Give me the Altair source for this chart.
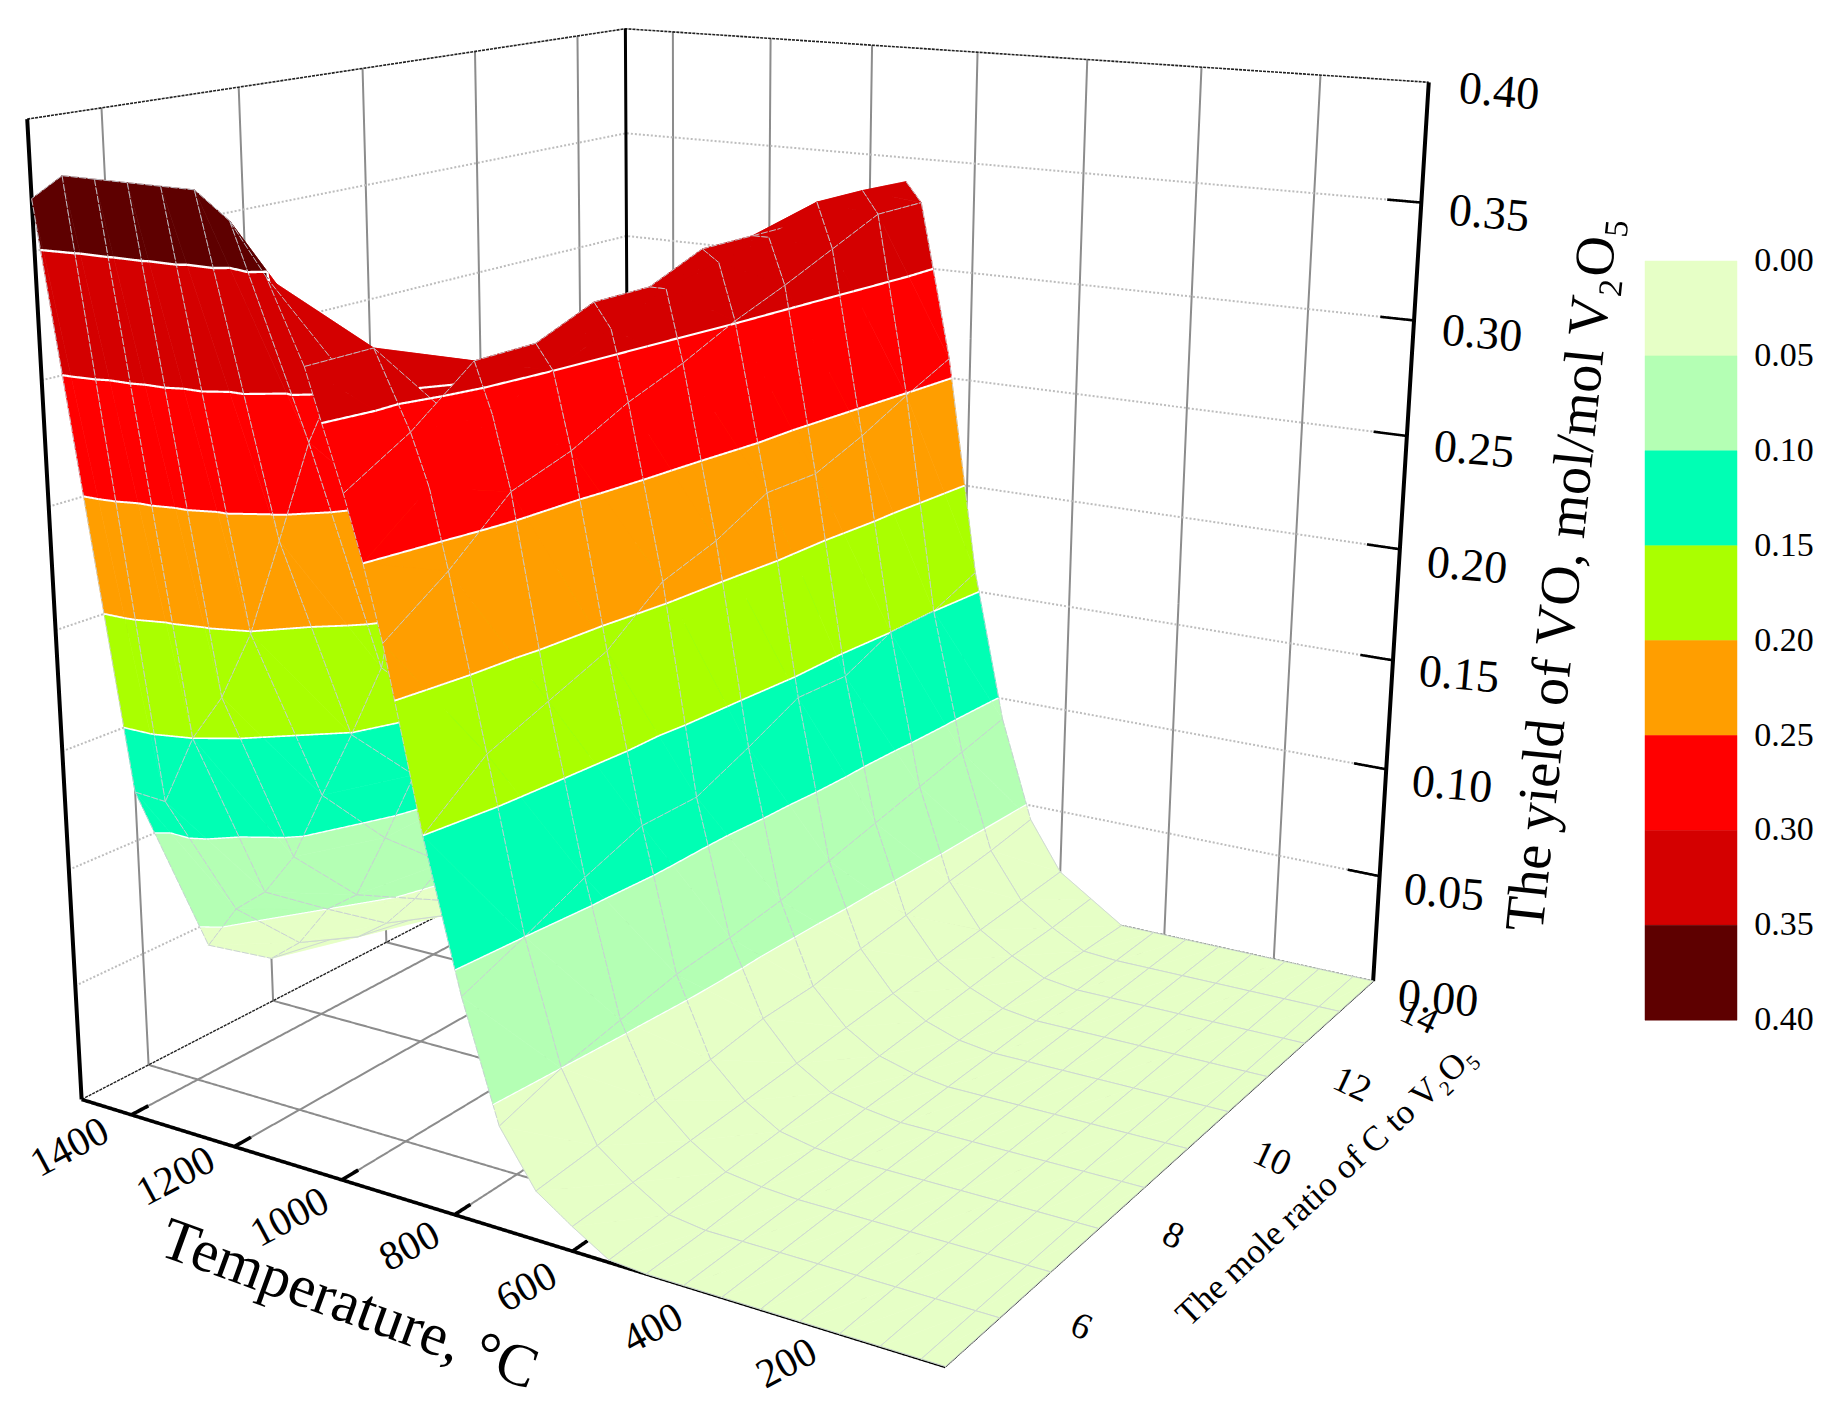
import numpy as np
import altair as alt

# ---------- data ----------
temperature = [1500,1440,1380,1320,1260,1200,1140,1080,1020,960,930,900,840,780,720,660,600,540,480,420,360,300,240,180,120,60,25]
ratio = [5,6,7,8,9,10,11,12,13,14,15]
y1500 = [.370,.121,.040,.020,.015,.010,.007,.006,.005,.004,.003]
y1440 = [.380,.120,.060,.031,.020,.015,.012,.010,.008,.006,.005]
y1380 = [.380,.150,.071,.050,.030,.020,.015,.012,.010,.008,.006]
y1320 = [.380,.170,.090,.060,.045,.030,.020,.015,.012,.010,.008]
y1260 = [.380,.199,.120,.089,.065,.050,.035,.025,.020,.015,.012]
y1200 = [.380,.239,.149,.120,.100,.080,.060,.050,.040,.030,.025]
y1140 = [.370,.280,.180,.150,.140,.120,.100,.090,.080,.070,.060]
y1080 = [.351,.310,.240,.200,.200,.190,.180,.170,.160,.150,.140]
y1020 = [.320,.320,.290,.270,.270,.260,.260,.260,.270,.270,.270]
y960  = [.275,.290,.310,.310,.320,.320,.330,.330,.330,.330,.330]
y930  = [.250,.270,.290,.300,.310,.320,.325,.330,.340,.340,.339]
y900  = [.221,.239,.261,.269,.281,.290,.301,.310,.320,.330,.330]
y840  = [.150,.170,.180,.190,.209,.217,.229,.229,.238,.249,.259]
y780  = [.090,.100,.111,.120,.120,.130,.141,.140,.150,.150,.159]
y720  = [.042,.050,.055,.060,.062,.065,.070,.075,.080,.085,.090]
y660  = [.020,.022,.025,.027,.030,.030,.033,.035,.038,.040,.043]
y600  = [.010,.011,.012,.013,.014,.015,.016,.017,.018,.019,.020]
y540  = [.001,.002,.003,.004,.005,.006,.007,.008,.009,.009,.010]
y480  = [.000,.000,.001,.001,.002,.002,.002,.002,.002,.001,.000]
y420  = [.000,.000,.000,.000,.000,.000,.000,.000,.000,.000,.000]
yields = np.array([y1500,y1440,y1380,y1320,y1260,y1200,y1140,y1080,y1020,y960,y930,y900,y840,y780,y720,y660,y600,y540,y480]
                  + [y420]*8)

band_edges = [0.00,0.05,0.10,0.15,0.20,0.25,0.30,0.35,0.40]
band_colors = ["#E6FFC6","#B4FFB4","#00FFB4","#AAFF00","#FF9E00","#FF0000","#D40000","#5E0000"]
temp_ticks = [1400,1200,1000,800,600,400,200]
ratio_ticks = [6,8,10,12,14]
yield_ticks = [0.05,0.10,0.15,0.20,0.25,0.30,0.35]

# ---------- the 3D view: box corners in the picture ----------
box3d = [(1500,5,0),(25,5,0),(25,15,0),(1500,15,0),(1500,5,.4),(25,15,.4),(1500,15,.4)]
box2d = [(84,1100),(944,1367),(1375,980),(627,817),(26,118),(1428,83),(627,29)]
def scaled(T,r,z): return (T/1000.0,r/10.0,z)
A=[];b=[]
for p,q in zip(box3d,box2d):
    X,Y,Z=scaled(*p);u,v=q
    A.append([X,Y,Z,1,0,0,0,0,-u*X,-u*Y,-u*Z]);b.append(u)
    A.append([0,0,0,0,X,Y,Z,1,-v*X,-v*Y,-v*Z]);b.append(v)
h=np.linalg.lstsq(np.array(A,float),np.array(b,float),rcond=None)[0]
P=np.array(list(h)+[1.0]).reshape(3,4)
def proj(T,r,z):
    w=P@np.array([*scaled(T,r,z),1.0])
    return [round(float(w[0]/w[2]),2),round(float(w[1]/w[2]),2)]
SOLID=[1,0]
def line(pts,dash=SOLID,**props):
    return {"type":"Feature","geometry":{"type":"LineString","coordinates":[proj(*p) for p in pts]},
            "properties":dict(props,dash=dash)}

TMAX,TMIN,RMIN,RMAX,ZMAX=1500,25,5,15,.4

# ---------- surface features, painted back to front ----------
def clip(poly,level,keep_above):
    out=[]
    n=len(poly)
    for i in range(n):
        a,b_=poly[i],poly[(i+1)%n]
        da,db=a[2]-level,b_[2]-level
        ina=da>=0 if keep_above else da<=0
        inb=db>=0 if keep_above else db<=0
        if ina: out.append(a)
        if ina!=inb:
            t=da/(da-db)
            out.append(tuple(a[k]+t*(b_[k]-a[k]) for k in range(3)))
    return out
def contour_seg(tri,level):
    pts=[]
    for i in range(3):
        a,b_=tri[i],tri[(i+1)%3]
        da,db=a[2]-level,b_[2]-level
        if da*db<0:
            t=da/(da-db)
            pts.append(tuple(a[k]+t*(b_[k]-a[k]) for k in range(3)))
    return pts if len(pts)==2 else None

features=[]
EPS=1e-6
HIDDEN_ROW=930
MESH="#C6CDD4"
for i in range(len(temperature)-1):
    for j in range(len(ratio)-2,-1,-1):
        v=[(temperature[i],ratio[j],yields[i,j]),(temperature[i],ratio[j+1],yields[i,j+1]),
           (temperature[i+1],ratio[j+1],yields[i+1,j+1]),(temperature[i+1],ratio[j],yields[i+1,j])]
        tris=[[v[0],v[1],v[2]],[v[0],v[2],v[3]]]
        for tri in tris:
            for k,c in enumerate(band_colors):
                lo,hi=band_edges[k]+EPS,band_edges[k+1]+EPS
                poly=tri
                if k>0: poly=clip(poly,lo,True)
                if len(poly)>=3: poly=clip(poly,hi,False)
                if len(poly)>=3:
                    ring=[proj(*p) for p in poly];ring.append(ring[0])
                    features.append({"type":"Feature","geometry":{"type":"Polygon","coordinates":[ring]},
                                     "properties":{"fill":c,"stroke":c,"sw":0.7,"dash":SOLID}})
        dash=[7,1.5] if max(p[2] for p in v)>.05 else SOLID
        edges=[[v[1],v[2]],[v[3],v[0]]]
        if temperature[i]!=HIDDEN_ROW: edges.append([v[0],v[1]])
        if temperature[i+1]!=HIDDEN_ROW: edges.append([v[2],v[3]])
        for e in edges:
            features.append(line(e,dash=dash,fill="transparent",stroke=MESH,sw=0.9))
        for tri in tris:
            for lev in band_edges[1:-1]:
                seg=contour_seg(tri,lev+EPS)
                if seg:
                    features.append(line(seg,fill="transparent",stroke="#FFFFFF",sw=round(1.1+lev*3.6,2)))

def shape_layer(feats,**mark):
    return alt.Chart(alt.Data(values=feats)).mark_geoshape(strokeJoin="round",**mark).encode(
        fill=alt.Fill("properties.fill:N",scale=None),
        stroke=alt.Stroke("properties.stroke:N",scale=None),
        strokeWidth=alt.StrokeWidth("properties.sw:Q",scale=None),
        strokeDash=alt.StrokeDash("properties.dash:N",scale=None),
    ).project(type="identity",scale=1,translate=[-8,-8])

# ---------- walls and floor ----------
grid=[]
for T in temp_ticks:
    grid.append(line([(T,RMIN,0),(T,RMAX,0),(T,RMAX,ZMAX)],fill="transparent",stroke="#8C8C8C",sw=2))
for r in ratio_ticks:
    grid.append(line([(TMIN,r,0),(TMAX,r,0),(TMAX,r,ZMAX)],fill="transparent",stroke="#8C8C8C",sw=2))
dotted=[]
for z in yield_ticks:
    dotted.append(line([(TMAX,RMIN,z),(TMAX,RMAX,z),(TMIN,RMAX,z)],dash=[2,2],fill="transparent",stroke="#BDBDBD",sw=2))
thin=[line([(TMAX,RMIN,ZMAX),(TMAX,RMAX,ZMAX),(TMIN,RMAX,ZMAX)],dash=[3,1],fill="transparent",stroke="#222222",sw=1.6),
      line([(TMAX,RMIN,0),(TMAX,RMAX,0),(TMIN,RMAX,0)],dash=[3,1],fill="transparent",stroke="#222222",sw=1.4)]
thick=[line([(TMAX,RMIN,0),(TMAX,RMIN,ZMAX)],fill="transparent",stroke="#000000",sw=4),
       line([(TMAX,RMAX,0),(TMAX,RMAX,ZMAX)],fill="transparent",stroke="#000000",sw=3),
       line([(TMIN,RMAX,0),(TMIN,RMAX,ZMAX)],fill="transparent",stroke="#000000",sw=4),
       line([(TMAX,RMIN,0),(TMIN,RMIN,0)],fill="transparent",stroke="#000000",sw=3.6),
       line([(TMIN,RMIN,0),(TMIN,RMAX,0)],fill="transparent",stroke="#000000",sw=1.6)]
for T in temp_ticks:
    thick.append(line([(T,RMIN,0),(T,RMIN+0.25,0)],fill="transparent",stroke="#000000",sw=3.6))
for z in yield_ticks:
    thick.append(line([(TMIN,RMAX,z),(TMIN+55,RMAX,z)],fill="transparent",stroke="#000000",sw=2.6))

# ---------- legend ----------
LEG_X0,LEG_X1,LEG_Y0,LEG_DY=1645,1737,261,94.9
legend=[]
for k,c in enumerate(band_colors):
    y0,y1=LEG_Y0+k*LEG_DY,LEG_Y0+(k+1)*LEG_DY
    legend.append({"type":"Feature","geometry":{"type":"Polygon","coordinates":[[[LEG_X0,y0],[LEG_X1,y0],[LEG_X1,y1],[LEG_X0,y1],[LEG_X0,y0]]]},
                   "properties":{"fill":c,"stroke":c,"sw":0.5,"dash":SOLID}})

# ---------- text ----------
labels=[]
def label(text,x,y,angle,size):
    labels.append({"t":text,"lon":x,"lat":y,"a":angle%360,"s":size})
yield_label_xy=[(1438,999),(1444,893),(1452,785),(1459,675),(1467,566),(1474,450),(1482,334),(1489,214),(1499,92)]
for z,(x,y) in zip(["0.00","0.05","0.10","0.15","0.20","0.25","0.30","0.35","0.40"],yield_label_xy):
    label(z,x,y,5,46)
temp_label_xy=[(70,1148),(176,1177),(290,1218),(410,1247),(527,1288),(653,1329),(787,1364)]
for T,(x,y) in zip(temp_ticks,temp_label_xy):
    label(str(T),x,y,-28,41)
ratio_label_xy=[(1081,1327),(1173,1236),(1272,1159),(1352,1085),(1419,1017)]
for r,(x,y) in zip(ratio_ticks,ratio_label_xy):
    label(str(r),x,y,25,37)
for k,e in enumerate(band_edges):
    label("%.2f"%e,1784,LEG_Y0+k*LEG_DY,0,34)
label("Temperature,    °C",349,1305,20,60)
label("The mole ratio of C to V₂O₅",1326,1185,-43,35)
label("The yield of VO, mol/mol V₂O₅",1563,574,-84,56)

text_layer=alt.Chart(alt.Data(values=labels)).mark_text(font="Liberation Serif",align="center",baseline="middle",color="#000000").encode(
    longitude="lon:Q",latitude="lat:Q",text="t:N",
    angle=alt.Angle("a:Q",scale=None),size=alt.Size("s:Q",scale=None),
).project(type="identity",scale=1,translate=[-8,-8])

chart=alt.layer(
    shape_layer(grid),
    shape_layer(dotted),
    shape_layer(thin),
    shape_layer(thick),
    shape_layer(features),
    shape_layer(legend),
    text_layer,
).properties(width=1820,height=1400,padding=0,autosize=alt.AutoSizeParams(type="none")).configure_view(stroke=None)

chart.save("out.html", embed_options={"renderer": "svg", "actions": False})
